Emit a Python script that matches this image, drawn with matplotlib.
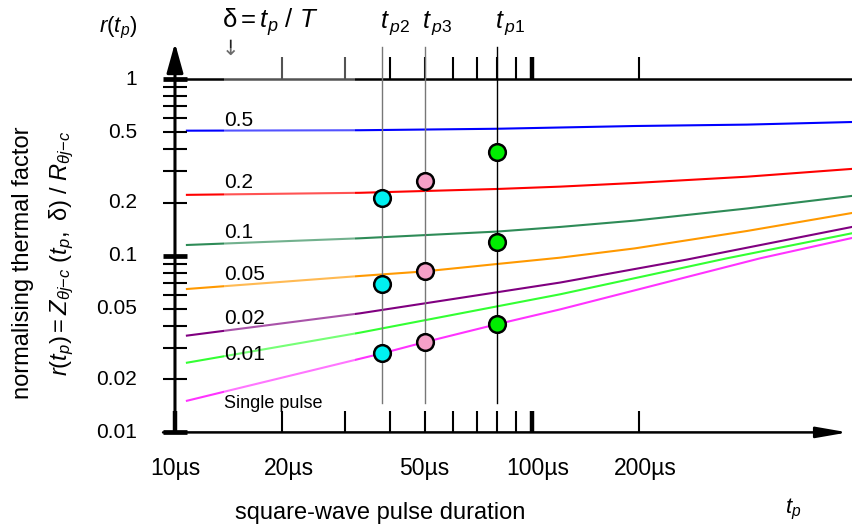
import matplotlib
matplotlib.use('Agg')
import matplotlib.pyplot as plt
from matplotlib.patches import Rectangle

plt.rcParams['font.family'] = ['Liberation Sans', 'DejaVu Sans']
plt.rcParams['mathtext.fontset'] = 'custom'
plt.rcParams['mathtext.rm'] = 'Liberation Sans'
plt.rcParams['mathtext.it'] = 'Liberation Sans:italic'
plt.rcParams['mathtext.bf'] = 'Liberation Sans:bold'

W, H = 852, 524

# r(tp) curves per duty cycle, pulse duration in µs
duty_labels = ['0.5', '0.2', '0.1', '0.05', '0.02', '0.01', 'Single pulse']
duty_colors = ['#0000ff', '#ff0000', '#2e8b57', '#ff9900', '#800080', '#33ff33', '#ff33ff']

t_d50 = [10.8, 33, 80, 194, 400, 788]
r_d50 = [0.510, 0.513, 0.523, 0.542, 0.552, 0.571]
t_d20 = [10.8, 33, 80, 120, 194, 400, 788]
r_d20 = [0.221, 0.227, 0.2386, 0.246, 0.258, 0.280, 0.310]
t_d10 = [10.8, 33, 80, 120, 194, 400, 788]
r_d10 = [0.115, 0.1255, 0.137, 0.1455, 0.158, 0.185, 0.218]
t_d05 = [10.8, 33, 50, 80, 120, 194, 400, 788]
r_d05 = [0.0648, 0.0768, 0.0815, 0.0898, 0.0975, 0.110, 0.138, 0.1745]
t_d02 = [10.8, 33, 120, 271, 788]
r_d02 = [0.0353, 0.0472, 0.0705, 0.095, 0.1455]
t_d01 = [10.8, 33, 120, 351, 788]
r_d01 = [0.0248, 0.0367, 0.0605, 0.0966, 0.134]
t_single = [10.8, 38, 50, 80, 120, 435, 788]
r_single = [0.0151, 0.0280, 0.0324, 0.0410, 0.0497, 0.0966, 0.126]

curves_t = [t_d50, t_d20, t_d10, t_d05, t_d02, t_d01, t_single]
curves_r = [r_d50, r_d20, r_d10, r_d05, r_d02, r_d01, r_single]

# example operating points at three pulse widths
tp_values = [38, 50, 80]
tp_names = ['p2', 'p3', 'p1']
tp_line_colors = ['#777777', '#777777', 'black']
tp_marker_colors = ['#00f0f0', '#f5a0c8', '#00ee00']
r_tp2 = [0.211, 0.069, 0.028]
r_tp3 = [0.266, 0.082, 0.0324]
r_tp1 = [0.388, 0.120, 0.041]
tp_points = [r_tp2, r_tp3, r_tp1]

x_ticks = [20, 30, 40, 50, 60, 70, 80, 90, 100, 200]
x_bold = [100]
x_tick_labels = {10: '10µs', 20: '20µs', 50: '50µs', 100: '100µs', 200: '200µs'}
y_ticks = [1, .9, .8, .7, .6, .5, .4, .3, .2, .1,
           .09, .08, .07, .06, .05, .04, .03, .02, .01]
y_bold = [1, .1, .01]
y_tick_labels = ['1', '0.5', '0.2', '0.1', '0.05', '0.02', '0.01']
y_label_values = [1, .5, .2, .1, .05, .02, .01]


def fx(px):
    return px / W


def fy(py):
    return 1 - py / H


fig = plt.figure(figsize=(W / 100, H / 100), dpi=100)
ax = fig.add_axes([0, 0, 1, 1])
ax.set_xscale('log')
ax.set_yscale('log')
ax.set_xlim(3.235, 787.7)
ax.set_ylim(0.003031, 2.80)
ax.axis('off')

# axes with arrows
ax.annotate('', xy=(10, 1.60), xytext=(10, 0.01),
            arrowprops=dict(arrowstyle='-|>,head_length=1.8,head_width=0.5',
                            lw=2.2, color='black', shrinkA=0, shrinkB=0),
            annotation_clip=False, zorder=6)
ax.annotate('', xy=(767, 0.01), xytext=(9.26, 0.01),
            arrowprops=dict(arrowstyle='-|>,head_length=1.9,head_width=0.33',
                            lw=1.8, color='black', shrinkA=0, shrinkB=0),
            annotation_clip=False, zorder=6)
ax.plot([10, 787.7], [1, 1], color='black', lw=1.8, clip_on=False, zorder=3)

# y ticks
for v in y_ticks:
    lw = 3.4 if v in y_bold else 1.5
    ax.plot([9.26, 10.8], [v, v], color='black', lw=lw, solid_capstyle='butt',
            clip_on=False, zorder=6)

# x ticks on the baseline and on the r = 1 line
for t in x_ticks + [10]:
    lw = 3.2 if t in x_bold or t == 10 else 1.5
    ax.plot([t, t], [0.01, 0.0132], color='black', lw=lw,
            solid_capstyle='butt', zorder=6)
for t in x_ticks:
    lw = 3.2 if t in x_bold else 1.5
    ax.plot([t, t], [1, 1.33], color='black', lw=lw,
            solid_capstyle='butt', zorder=3)

# duty cycle curves
for ts, rs, c in zip(curves_t, curves_r, duty_colors):
    ax.plot(ts, rs, color=c, lw=1.5, zorder=2)

# light band behind the curve labels
ax.add_patch(Rectangle((fx(224), fy(405)), fx(355) - fx(224), fy(48) - fy(405),
                       transform=ax.transAxes, facecolor='white', alpha=0.33,
                       edgecolor='none', zorder=4))

label_py = [121, 183, 233, 275, 319, 355, 403]
for lab, py in zip(duty_labels, label_py):
    fs = 13 if lab == 'Single pulse' else 15
    ax.text(fx(224), fy(py), lab, ha='left', va='center', fontsize=fs, zorder=7,
            transform=ax.transAxes)

# pulse width markers
for t, name, lc, mc, pts in zip(tp_values, tp_names, tp_line_colors,
                                tp_marker_colors, tp_points):
    ax.plot([t, t], [0.0147, 1.52], color=lc, lw=1.0, zorder=3)
    ax.plot([t] * len(pts), pts, 'o', ms=12, mfc=mc, mec='black', mew=1.8,
            zorder=5)
    ax.text(t * 0.985, fy(23), r'$t_{\,%s}$' % name, ha='left', va='center',
            fontsize=18, transform=ax.get_xaxis_transform())

# tick labels
for v, lab in zip(y_label_values, y_tick_labels):
    ax.text(fx(137), v, lab, ha='right', va='center', fontsize=15,
            transform=ax.get_yaxis_transform())
for t, lab in x_tick_labels.items():
    shift = 1.04 if t in (20, 100, 200) else 1.0
    ax.text(t * shift, fy(469), lab, ha='center', va='center', fontsize=16.5,
            transform=ax.get_xaxis_transform())

# annotations and axis titles
ax.text(fx(137), fy(28), r'$r(t_p)$', ha='right', va='center', fontsize=16,
        transform=ax.transAxes)
ax.text(fx(222), fy(22), r'$\mathrm{\delta} = t_p\ /\ T$', ha='left', va='center',
        fontsize=18.5, transform=ax.transAxes)
ax.text(fx(230), fy(49), '↓', ha='center', va='center', fontsize=15,
        family='DejaVu Sans', color='#222222', transform=ax.transAxes)
ax.text(fx(23), fy(263), 'normalising thermal factor', ha='center', va='center',
        rotation=90, fontsize=17, transform=ax.transAxes)
ax.text(fx(62), fy(253),
        r'$r(t_p) = Z_{\theta j{-}c}\ (t_p,\ \mathrm{\delta})\ /\ R_{\theta j{-}c}$',
        ha='center', va='center', rotation=90, fontsize=17, transform=ax.transAxes)
ax.text(fx(380), fy(513), 'square-wave pulse duration', ha='center', va='center',
        fontsize=17, transform=ax.transAxes)
ax.text(fx(793), fy(509), r'$t_p$', ha='center', va='center', fontsize=16,
        transform=ax.transAxes)

fig.savefig('out.png', dpi=100, facecolor='white')
